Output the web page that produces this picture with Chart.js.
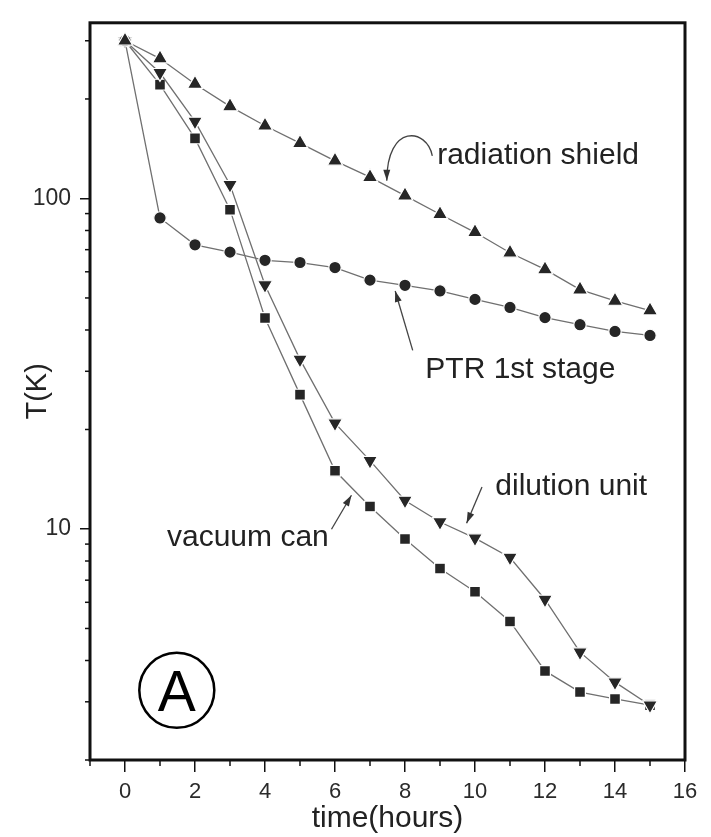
<!DOCTYPE html>
<html>
<head>
<meta charset="utf-8">
<script src="https://cdn.jsdelivr.net/npm/chart.js@4.4.0/dist/chart.umd.min.js"></script>
<style>
    html, body { margin: 0; padding: 0; background: #fff; }
    #wrap { width: 711px; height: 837px; }
</style>
</head>
<body>
<div id="wrap"><canvas id="cooldownChart"></canvas></div>
<script>
// 1. Datos (horas vs temperatura en K)
const hours = [0, 1, 2, 3, 4, 5, 6, 7, 8, 9, 10, 11, 12, 13, 14, 15];
const radiationShield = [300, 265, 222, 190, 166, 147, 130, 116, 102, 89.6, 79, 68.5, 61, 53, 49, 45.8];
const ptrFirstStage   = [300, 87.3, 72.4, 68.8, 65, 64, 61.8, 56.6, 54.6, 52.5, 49.5, 46.8, 43.6, 41.5, 39.6, 38.5];
const dilutionUnit    = [300, 240, 171, 110, 54.7, 32.6, 20.9, 16.1, 12.2, 10.5, 9.38, 8.2, 6.12, 4.24, 3.44, 2.93];
const vacuumCan       = [300, 221, 152, 92.5, 43.5, 25.5, 15.0, 11.7, 9.33, 7.59, 6.46, 5.25, 3.72, 3.21, 3.06, 2.93];

const yTicks = [2, 3, 4, 5, 6, 7, 8, 9, 10, 20, 30, 40, 50, 60, 70, 80, 90, 100, 200, 300];
const yTickLabels = [10, 100];

// 2. Textos y flechas (en coordenadas de datos)
const notes = [
    { text: "radiation shield", x: 8.92, y: 126.8 },
    { text: "PTR 1st stage", x: 8.58, y: 28.6 },
    { text: "dilution unit", x: 10.58, y: 12.65 },
    { text: "vacuum can", x: 1.2, y: 8.9 }
];
const arrows = [
    { from: [8.22, 34.7], to: [7.72, 52.5] },
    { from: [10.2, 13.4], to: [9.76, 10.4] },
    { from: [5.9, 9.98], to: [6.47, 12.65] }
];
const curvedArrow = { from: [8.78, 134.6], c1: [8.63, 163.4], c2: [7.48, 169], to: [7.48, 113.2] };
const panelMark = { text: "A", x: 1.48, y: 3.25 };

const toPoints = (vals) => hours.map((h, i) => ({ x: h, y: vals[i] }));

function arrowHead(ctx, fx, fy, tx, ty) {
    const ang = Math.atan2(ty - fy, tx - fx);
    const len = 11, half = 3.5;
    ctx.beginPath();
    ctx.moveTo(tx, ty);
    ctx.lineTo(tx - len * Math.cos(ang) + half * Math.sin(ang), ty - len * Math.sin(ang) - half * Math.cos(ang));
    ctx.lineTo(tx - len * Math.cos(ang) - half * Math.sin(ang), ty - len * Math.sin(ang) + half * Math.cos(ang));
    ctx.closePath();
    ctx.fill();
}

// 3. Plugin: fondo, marco, ticks menores y anotaciones
const decorPlugin = {
    id: 'decor',
    beforeDraw(chart) {
        const ctx = chart.ctx;
        ctx.save();
        ctx.fillStyle = '#fff';
        ctx.fillRect(0, 0, chart.width, chart.height);
        ctx.restore();
    },
    afterDraw(chart) {
        const ctx = chart.ctx;
        const xs = chart.scales.x, ys = chart.scales.y;
        const a = chart.chartArea;
        const px = (v) => xs.getPixelForValue(v);
        const py = (v) => ys.getPixelForValue(v);

        ctx.save();
        // ticks menores
        ctx.strokeStyle = '#111';
        ctx.lineWidth = 1.5;
        for (let h = -1; h <= 16; h++) {
            if (h % 2 === 0) continue;
            ctx.beginPath();
            ctx.moveTo(px(h), a.bottom);
            ctx.lineTo(px(h), a.bottom + 6);
            ctx.stroke();
        }
        yTicks.filter(t => !yTickLabels.includes(t)).forEach(t => {
            ctx.beginPath();
            ctx.moveTo(a.left - 5, py(t));
            ctx.lineTo(a.left, py(t));
            ctx.stroke();
        });

        // marco
        ctx.lineWidth = 3;
        ctx.strokeRect(a.left, a.top, a.right - a.left, a.bottom - a.top);

        // textos
        ctx.fillStyle = '#222';
        ctx.font = '30px "Liberation Sans", Arial, sans-serif';
        ctx.textAlign = 'left';
        ctx.textBaseline = 'alphabetic';
        notes.forEach(n => ctx.fillText(n.text, px(n.x), py(n.y)));

        // flechas rectas
        ctx.strokeStyle = '#444';
        ctx.fillStyle = '#333';
        ctx.lineWidth = 1.3;
        arrows.forEach(ar => {
            const fx = px(ar.from[0]), fy = py(ar.from[1]);
            const tx = px(ar.to[0]), ty = py(ar.to[1]);
            ctx.beginPath();
            ctx.moveTo(fx, fy);
            ctx.lineTo(tx, ty);
            ctx.stroke();
            arrowHead(ctx, fx, fy, tx, ty);
        });

        // flecha curva
        const c = curvedArrow;
        ctx.beginPath();
        ctx.moveTo(px(c.from[0]), py(c.from[1]));
        ctx.bezierCurveTo(px(c.c1[0]), py(c.c1[1]), px(c.c2[0]), py(c.c2[1]), px(c.to[0]), py(c.to[1]));
        ctx.stroke();
        arrowHead(ctx, px(c.c2[0]), py(c.c2[1]), px(c.to[0]), py(c.to[1]));

        // marca del panel
        const cx = px(panelMark.x), cy = py(panelMark.y);
        ctx.strokeStyle = '#000';
        ctx.lineWidth = 2.5;
        ctx.beginPath();
        ctx.arc(cx, cy, 37.5, 0, Math.PI * 2);
        ctx.stroke();
        ctx.fillStyle = '#000';
        ctx.font = '57px "Liberation Sans", Arial, sans-serif';
        ctx.textAlign = 'center';
        ctx.fillText(panelMark.text, cx, cy + 21);
        ctx.restore();
    }
};

// 4. Series
const lineColor = '#707070';
const markColor = '#262626';
function series(label, vals, style, radius, rotation) {
    return {
        label: label,
        data: toPoints(vals),
        borderColor: lineColor,
        borderWidth: 1.3,
        pointStyle: style,
        pointRadius: radius,
        pointRotation: rotation || 0,
        pointBackgroundColor: markColor,
        pointBorderColor: '#fff',
        pointBorderWidth: 1.2,
        tension: 0
    };
}

new Chart(document.getElementById('cooldownChart'), {
    type: 'line',
    data: {
        datasets: [
            series('radiation shield', radiationShield, 'triangle', 8.8),
            series('PTR 1st stage', ptrFirstStage, 'circle', 6.2),
            series('dilution unit', dilutionUnit, 'triangle', 8.6, 180),
            series('vacuum can', vacuumCan, 'rect', 7.6)
        ]
    },
    options: {
        responsive: true,
        maintainAspectRatio: false,
        animation: false,
        layout: { padding: { top: 19, right: 26, left: 0, bottom: 0 } },
        plugins: { legend: { display: false }, tooltip: { enabled: false } },
        scales: {
            x: {
                type: 'linear',
                min: -1,
                max: 16,
                afterFit: (s) => { s.height = 77; },
                border: { display: false },
                grid: {
                    drawOnChartArea: false,
                    tickLength: 12,
                    lineWidth: 1.5,
                    tickColor: (ctx) => (ctx.tick && ctx.tick.value % 2 === 0) ? '#111' : 'rgba(0,0,0,0)'
                },
                ticks: {
                    stepSize: 1,
                    autoSkip: false,
                    maxRotation: 0,
                    padding: 7,
                    color: '#2a2a2a',
                    font: { family: '"Liberation Sans", Arial, sans-serif', size: 22 },
                    callback: (v) => (v >= 0 && v % 2 === 0) ? String(v) : ''
                },
                title: {
                    display: true,
                    text: 'time(hours)',
                    color: '#222',
                    padding: { top: 4, bottom: 0 },
                    font: { family: '"Liberation Sans", Arial, sans-serif', size: 30 }
                }
            },
            y: {
                type: 'logarithmic',
                min: 2,
                max: 340,
                afterFit: (s) => { s.width = 90; },
                afterBuildTicks: (s) => { s.ticks = yTicks.map(v => ({ value: v })); },
                border: { display: false },
                grid: {
                    drawOnChartArea: false,
                    tickLength: 10,
                    lineWidth: 1.5,
                    tickColor: (ctx) => (ctx.tick && yTickLabels.includes(ctx.tick.value)) ? '#111' : 'rgba(0,0,0,0)'
                },
                ticks: {
                    autoSkip: false,
                    padding: 9,
                    color: '#2a2a2a',
                    font: { family: '"Liberation Sans", Arial, sans-serif', size: 23 },
                    callback: (v) => yTickLabels.includes(v) ? String(v) : ''
                },
                title: {
                    display: true,
                    text: 'T(K)',
                    color: '#222',
                    padding: { top: 21, bottom: 0 },
                    font: { family: '"Liberation Sans", Arial, sans-serif', size: 29 }
                }
            }
        }
    },
    plugins: [decorPlugin]
});
</script>
</body>
</html>
